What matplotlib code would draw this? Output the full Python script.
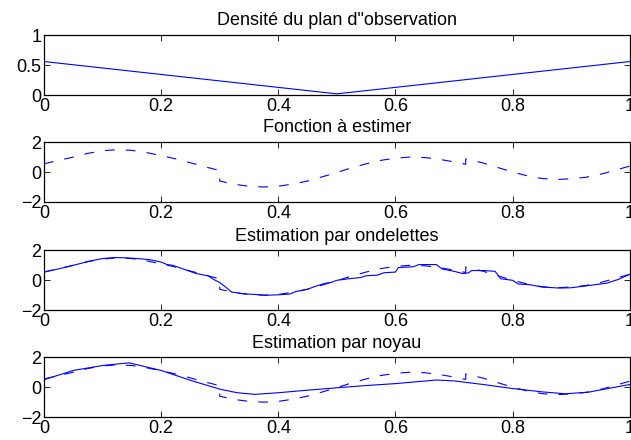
import matplotlib
matplotlib.use("Agg")
import matplotlib.pyplot as plt

plt.rcParams['font.family'] = ['Liberation Sans', 'DejaVu Sans']
plt.rcParams['lines.scale_dashes'] = False

# density of the design
dens_x = [0.0, 0.5, 1.0]
dens_y = [0.56, 0.02, 0.56]

# function to estimate (dashed), with jumps at 0.3 and 0.72
f_x = [0.0, 0.025, 0.05, 0.075, 0.1, 0.125, 0.15, 0.175, 0.2, 0.225, 0.25, 0.275, 0.3,
       0.3, 0.325, 0.35, 0.375, 0.4, 0.425, 0.45, 0.475, 0.5, 0.525, 0.55, 0.575, 0.6,
       0.625, 0.65, 0.675, 0.7, 0.72, 0.72, 0.725, 0.75, 0.775, 0.8, 0.825, 0.85, 0.875,
       0.9, 0.925, 0.95, 0.975, 1.0]
f_y = [0.55, 0.78, 1.0, 1.25, 1.42, 1.5, 1.45, 1.3, 1.1, 0.88, 0.62, 0.35, 0.1,
       -0.6, -0.82, -0.95, -1.0, -0.95, -0.8, -0.6, -0.32, -0.03, 0.28, 0.55, 0.78, 0.93,
       1.0, 0.97, 0.85, 0.68, 0.52, 0.88, 0.85, 0.6, 0.3, 0.0, -0.25, -0.43, -0.5,
       -0.45, -0.35, -0.15, 0.12, 0.4]

# wavelet estimate
w_x = [0.0, 0.02, 0.04, 0.06, 0.08, 0.1, 0.12, 0.14, 0.16, 0.18, 0.2, 0.21, 0.22, 0.24,
       0.26, 0.28, 0.29, 0.3, 0.31, 0.32, 0.34, 0.36, 0.38, 0.4, 0.42, 0.43, 0.45, 0.46,
       0.48, 0.49, 0.5, 0.52, 0.54, 0.55, 0.57, 0.58, 0.6, 0.605, 0.63, 0.64, 0.67, 0.68,
       0.7, 0.715, 0.725, 0.73, 0.75, 0.77, 0.78, 0.8, 0.81, 0.83, 0.85, 0.88, 0.9, 0.92,
       0.94, 0.96, 0.98, 1.0]
w_y = [0.55, 0.72, 0.9, 1.1, 1.3, 1.45, 1.52, 1.5, 1.45, 1.38, 1.22, 1.05, 1.0, 0.72,
       0.45, 0.3, 0.05, -0.15, -0.45, -0.78, -0.9, -0.95, -1.0, -0.97, -0.92, -0.75, -0.6, -0.45,
       -0.2, -0.15, 0.0, 0.1, 0.18, 0.3, 0.35, 0.5, 0.55, 0.85, 0.9, 1.05, 1.05, 0.75,
       0.6, 0.45, 0.5, 0.65, 0.65, 0.6, 0.1, 0.0, -0.25, -0.3, -0.45, -0.52, -0.5, -0.4,
       -0.3, -0.2, 0.05, 0.4]

# kernel estimate
k_x = [0.0, 0.05, 0.1, 0.145, 0.2, 0.25, 0.3, 0.33, 0.36, 0.4, 0.45, 0.5, 0.55, 0.6,
       0.67, 0.7, 0.75, 0.8, 0.85, 0.89, 0.93, 0.96, 1.0]
k_y = [0.5, 1.12, 1.45, 1.63, 1.12, 0.46, -0.13, -0.37, -0.48, -0.37, -0.2, -0.04, 0.11, 0.24,
       0.48, 0.42, 0.18, -0.09, -0.31, -0.44, -0.33, -0.11, 0.18]

titles = ['Densité du plan d"observation', 'Fonction à estimer',
          'Estimation par ondelettes', 'Estimation par noyau']
xticks = [0, 0.2, 0.4, 0.6, 0.8, 1]
xticklabels = ['0', '0.2', '0.4', '0.6', '0.8', '1']

fig = plt.figure(figsize=(6.31, 4.40), dpi=100)
bottoms = [0.784, 0.541, 0.295, 0.052]
axes = [fig.add_axes([0.0697, b, 0.9283, 0.136]) for b in bottoms]

blue = '#0000ff'
dash = (0, (7, 8))

axes[0].plot(dens_x, dens_y, color=blue, lw=0.8)
axes[1].plot(f_x, f_y, color=blue, lw=0.8, linestyle=dash)
axes[2].plot(w_x, w_y, color=blue, lw=0.8)
axes[2].plot(f_x, f_y, color=blue, lw=0.8, linestyle=dash)
axes[3].plot(k_x, k_y, color=blue, lw=0.8)
axes[3].plot(f_x, f_y, color=blue, lw=0.8, linestyle=dash)

for i, ax in enumerate(axes):
    ax.set_xlim(0, 1)
    ax.set_xticks(xticks)
    ax.set_xticklabels(xticklabels)
    if i == 0:
        ax.set_ylim(0, 1)
        ax.set_yticks([0, 0.5, 1])
        ax.set_yticklabels(['0', '0.5', '1'])
    else:
        ax.set_ylim(-2, 2)
        ax.set_yticks([-2, 0, 2])
        ax.set_yticklabels(['\u22122', '0', '2'])
    ax.tick_params(direction='in', length=4, width=0.6, top=True, right=True,
                   labelsize=13, pad=2, colors='black')
    for s in ax.spines.values():
        s.set_linewidth(0.9)
    ax.set_title(titles[i], fontsize=13, pad=7)

fig.savefig('out.png', dpi=100)
